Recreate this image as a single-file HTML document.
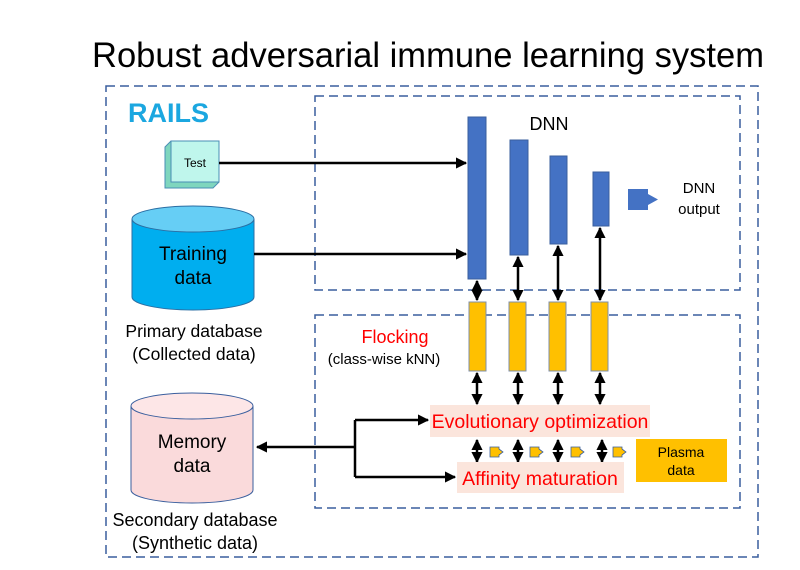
<!DOCTYPE html>
<html><head><style>
body{margin:0;background:#fff;}
svg text{font-family:"Liberation Sans",sans-serif;}
</style></head><body>
<svg width="800" height="565" viewBox="0 0 800 565" xmlns="http://www.w3.org/2000/svg">
<defs>
<marker id="ah" viewBox="0 0 10 10" refX="9" refY="5" markerWidth="4.5" markerHeight="4.5" orient="auto-start-reverse"><path d="M0,0 L10,5 L0,10 z" fill="#000"/></marker>
</defs>
<text x="428" y="67" font-size="35" text-anchor="middle" fill="#000" textLength="672" lengthAdjust="spacingAndGlyphs">Robust adversarial immune learning system</text>
<g fill="none" stroke="#3a5f9e" stroke-width="1.5" stroke-dasharray="9,5">
<rect x="106" y="86" width="652" height="471"/>
<rect x="315" y="96" width="425" height="194"/>
<rect x="315" y="315" width="425" height="193"/>
</g>
<text x="128" y="122" font-size="27" font-weight="bold" fill="#1ba7e0">RAILS</text>
<polygon points="165,147 171,141 219,141 219,182 213,188 165,188" fill="#7fd6be" stroke="#4a8fb5"/>
<rect x="171" y="141" width="48" height="41" fill="#bff6ec" stroke="#4a8fb5"/>
<text x="195" y="167" font-size="12" text-anchor="middle">Test</text>
<path d="M132,219 L132,297 A61,13 0 0 0 254,297 L254,219" fill="#00aeef" stroke="#2b6ea3"/>
<ellipse cx="193" cy="219" rx="61" ry="13" fill="#66cef5" stroke="#2b6ea3"/>
<text x="193" y="260" font-size="19" text-anchor="middle">Training</text>
<text x="193" y="284" font-size="19" text-anchor="middle">data</text>
<text x="194" y="337" font-size="17.5" text-anchor="middle">Primary database</text>
<text x="194" y="360" font-size="17.5" text-anchor="middle">(Collected data)</text>
<path d="M131,406 L131,490 A61,13 0 0 0 253,490 L253,406" fill="#fadadb" stroke="#3a5f9e"/>
<ellipse cx="192" cy="406" rx="61" ry="13" fill="#fde6e7" stroke="#3a5f9e"/>
<text x="192" y="448" font-size="19" text-anchor="middle">Memory</text>
<text x="192" y="472" font-size="19" text-anchor="middle">data</text>
<text x="195" y="526" font-size="18" text-anchor="middle">Secondary database</text>
<text x="195" y="549" font-size="18" text-anchor="middle">(Synthetic data)</text>
<g stroke="#000" stroke-width="2.5" fill="none">
<line x1="219" y1="163" x2="466" y2="163" marker-end="url(#ah)"/>
<line x1="254" y1="254" x2="466" y2="254" marker-end="url(#ah)"/>
<line x1="355" y1="447" x2="257" y2="447" marker-end="url(#ah)"/>
<polyline points="355,420 355,477"/>
<line x1="355" y1="420" x2="428" y2="420" marker-end="url(#ah)"/>
<line x1="355" y1="477" x2="455" y2="477" marker-end="url(#ah)"/>
<line x1="477" y1="281" x2="477" y2="300" marker-start="url(#ah)" marker-end="url(#ah)"/>
<line x1="518" y1="257" x2="518" y2="300" marker-start="url(#ah)" marker-end="url(#ah)"/>
<line x1="558" y1="246" x2="558" y2="300" marker-start="url(#ah)" marker-end="url(#ah)"/>
<line x1="600" y1="228" x2="600" y2="300" marker-start="url(#ah)" marker-end="url(#ah)"/>
<line x1="477" y1="373" x2="477" y2="404" marker-start="url(#ah)" marker-end="url(#ah)"/>
<line x1="518" y1="373" x2="518" y2="404" marker-start="url(#ah)" marker-end="url(#ah)"/>
<line x1="558" y1="373" x2="558" y2="404" marker-start="url(#ah)" marker-end="url(#ah)"/>
<line x1="600" y1="373" x2="600" y2="404" marker-start="url(#ah)" marker-end="url(#ah)"/>
<line x1="477" y1="440" x2="477" y2="462" marker-start="url(#ah)" marker-end="url(#ah)"/>
<line x1="518" y1="440" x2="518" y2="462" marker-start="url(#ah)" marker-end="url(#ah)"/>
<line x1="558" y1="440" x2="558" y2="462" marker-start="url(#ah)" marker-end="url(#ah)"/>
<line x1="602" y1="440" x2="602" y2="462" marker-start="url(#ah)" marker-end="url(#ah)"/>
</g>
<g fill="#4472c4" stroke="#3a5f9e">
<rect x="468" y="117" width="18" height="162"/>
<rect x="510" y="140" width="18" height="115"/>
<rect x="550" y="156" width="17" height="88"/>
<rect x="593" y="172" width="16" height="54"/>
<path d="M628,189 L648,189 L648,194 L658,199.5 L648,205 L648,210 L628,210 z" stroke="none"/>
</g>
<text x="549" y="130" font-size="18" text-anchor="middle">DNN</text>
<text x="699" y="193" font-size="15" text-anchor="middle">DNN</text>
<text x="699" y="214" font-size="15" text-anchor="middle">output</text>
<g fill="#ffc000" stroke="#7f8fa9">
<rect x="469" y="302" width="17" height="69"/>
<rect x="509" y="302" width="17" height="69"/>
<rect x="549" y="302" width="17" height="69"/>
<rect x="591" y="302" width="17" height="69"/>
</g>
<text x="395" y="343" font-size="18" text-anchor="middle" fill="#ff0000">Flocking</text>
<text x="384" y="364" font-size="15" text-anchor="middle">(class-wise kNN)</text>
<rect x="430" y="405" width="220" height="32" fill="#fbe5dc"/>
<text x="540" y="428" font-size="19.5" text-anchor="middle" fill="#ff0000">Evolutionary optimization</text>
<rect x="457" y="462" width="167" height="31" fill="#fbe5dc"/>
<text x="540" y="485" font-size="19.5" text-anchor="middle" fill="#ff0000">Affinity maturation</text>
<rect x="636" y="439" width="91" height="43" fill="#ffc000"/>
<text x="681" y="457" font-size="14" text-anchor="middle">Plasma</text>
<text x="681" y="475" font-size="14" text-anchor="middle">data</text>
<g fill="#ffc000" stroke="#3a5f9e" stroke-width="0.8">
<path d="M490,447 L499,447 L499,449 L503,452 L499,455 L499,457 L490,457 z"/>
<path d="M530,447 L539,447 L539,449 L543,452 L539,455 L539,457 L530,457 z"/>
<path d="M571,447 L580,447 L580,449 L584,452 L580,455 L580,457 L571,457 z"/>
<path d="M613,447 L622,447 L622,449 L626,452 L622,455 L622,457 L613,457 z"/>
</g>
</svg>
</body></html>
